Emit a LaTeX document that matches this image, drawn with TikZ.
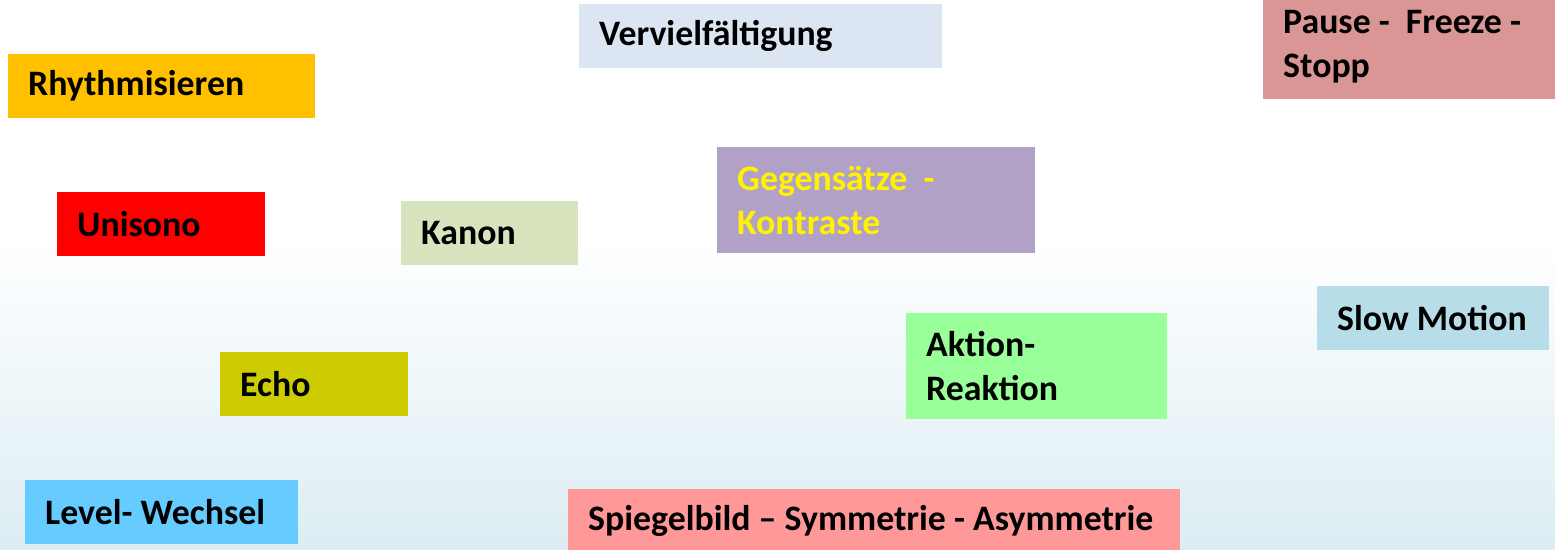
\documentclass[tikz,border=0pt]{standalone}
\usepackage{fontspec}
\setmainfont{Carlito}
\definecolor{rhythmcol}{HTML}{FFC000}
\definecolor{vervielcol}{HTML}{DCE6F2}
\definecolor{pausecol}{HTML}{D99694}
\definecolor{unisonocol}{HTML}{FF0000}
\definecolor{kanoncol}{HTML}{D7E4BD}
\definecolor{gegencol}{HTML}{B2A1C7}
\definecolor{slowcol}{HTML}{B7DEE8}
\definecolor{aktioncol}{HTML}{99FF99}
\definecolor{echocol}{HTML}{CCCC00}
\definecolor{levelcol}{HTML}{66CCFF}
\definecolor{spiegelcol}{HTML}{FF9999}
\definecolor{bgblue}{HTML}{DCEDF3}

\tikzset{
    card/.style={rectangle, anchor=north west, inner xsep=20pt, inner ysep=0pt,
        align=flush left, font=\fontsize{35.8}{44}\selectfont\bfseries}
}

\begin{document}
\begin{tikzpicture}[x=1pt, y=-1pt]
    \useasboundingbox (0,0) rectangle (1555,549);

    % Background: white above, pale blue towards the bottom
    \fill[white] (0,0) rectangle (1555,240);
    \shade[top color=white, bottom color=bgblue] (0,240) rectangle (1555,549);

    % Top row
    \node[card, fill=rhythmcol, minimum width=307pt, minimum height=64pt, text width=267pt] (rhythm) at (8,54) {Rhythmisieren};
    \node[card, fill=vervielcol, minimum width=363pt, minimum height=64pt, text width=323pt] (verviel) at (579,4) {Vervielfältigung};
    \node[card, fill=pausecol, minimum width=292pt, minimum height=104pt, text width=252pt] (pause) at (1263,-5) {Pause -\ \ Freeze -\\Stopp};

    % Middle row
    \node[card, fill=unisonocol, minimum width=208pt, minimum height=64pt, text width=168pt] (unisono) at (57,192) {Unisono};
    \node[card, fill=kanoncol, minimum width=177pt, minimum height=64pt, text width=137pt] (kanon) at (401,201) {Kanon};
    \node[card, fill=gegencol, text=yellow, minimum width=318pt, minimum height=106pt, text width=278pt] (gegen) at (717,147) {Gegensätze\ \ -\\Kontraste};
    \node[card, fill=slowcol, minimum width=232pt, minimum height=64pt, text width=192pt] (slow) at (1317,286) {Slow Motion};

    % Lower rows
    \node[card, fill=echocol, minimum width=188pt, minimum height=64pt, text width=148pt] (echo) at (220,352) {Echo};
    \node[card, fill=aktioncol, minimum width=261pt, minimum height=106pt, text width=221pt] (aktion) at (906,313) {Aktion-\\Reaktion};
    \node[card, fill=levelcol, minimum width=273pt, minimum height=64pt, text width=233pt] (level) at (25,480) {Level- Wechsel};
    \node[card, fill=spiegelcol, minimum width=612pt, minimum height=64pt, text width=572pt] (spiegel) at (568,489) {Spiegelbild – Symmetrie - Asymmetrie};
\end{tikzpicture}
\end{document}
